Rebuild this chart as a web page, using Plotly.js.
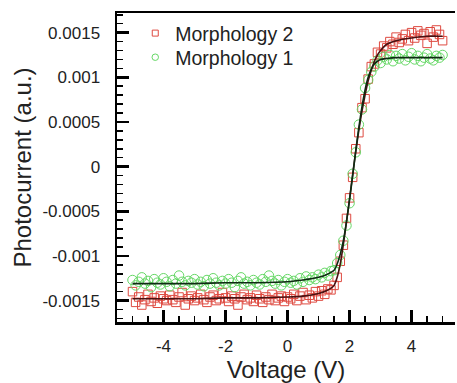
<!DOCTYPE html>
<html>
<head>
<meta charset="utf-8">
<script src="https://cdn.plot.ly/plotly-3.0.1.min.js"></script>
<style>html,body{margin:0;padding:0;background:#fff;}#chart{width:457px;height:383px;}</style>
</head>
<body>
<div id="chart"></div>
<script>
// Measured voltages (V)
const voltage = [-5.0,-4.9,-4.8,-4.7,-4.6,-4.5,-4.4,-4.3,-4.2,-4.1,-4.0,-3.9,-3.8,-3.7,-3.6,-3.5,-3.4,-3.3,-3.2,-3.1,-3.0,-2.9,-2.8,-2.7,-2.6,-2.5,-2.4,-2.3,-2.2,-2.1,-2.0,-1.9,-1.8,-1.7,-1.6,-1.5,-1.4,-1.3,-1.2,-1.1,-1.0,-0.9,-0.8,-0.7,-0.6,-0.5,-0.4,-0.3,-0.2,-0.1,0.0,0.1,0.2,0.3,0.4,0.5,0.6,0.7,0.8,0.9,1.0,1.1,1.2,1.3,1.4,1.5,1.6,1.7,1.8,1.9,2.0,2.1,2.2,2.3,2.4,2.5,2.6,2.7,2.8,2.9,3.0,3.1,3.2,3.3,3.4,3.5,3.6,3.7,3.8,3.9,4.0,4.1,4.2,4.3,4.4,4.5,4.6,4.7,4.8,4.9,5.0];

// Morphology 2 (red squares)
const morph2 = [-0.00140,-0.00152,-0.00146,-0.00155,-0.00149,-0.00143,-0.00151,-0.00147,-0.00153,-0.00145,
-0.00148,-0.00150,-0.00144,-0.00149,-0.00152,-0.00146,-0.00141,-0.00155,-0.00148,-0.00145,
-0.00150,-0.00147,-0.00143,-0.00149,-0.00152,-0.00146,-0.00144,-0.00150,-0.00148,-0.00141,
-0.00147,-0.00151,-0.00145,-0.00148,-0.00155,-0.00146,-0.00143,-0.00149,-0.00147,-0.00151,
-0.00144,-0.00148,-0.00152,-0.00146,-0.00149,-0.00143,-0.00150,-0.00147,-0.00145,-0.00151,
-0.00146,-0.00148,-0.00143,-0.00150,-0.00145,-0.00141,-0.00149,-0.00144,-0.00147,-0.00140,
-0.00145,-0.00139,-0.00143,-0.00137,-0.00138,-0.00133,-0.00124,-0.00106,-0.00088,-0.00058,
-0.00035,-0.00012,0.00020,0.00038,0.00066,0.00076,0.00098,0.00112,0.00115,0.00128,
0.00126,0.00135,0.00133,0.00140,0.00137,0.00145,0.00139,0.00143,0.00148,0.00141,
0.00150,0.00144,0.00152,0.00147,0.00149,0.00138,0.00151,0.00145,0.00153,0.00148,0.00141];

// Morphology 1 (green circles)
const morph1 = [-0.00127,-0.00133,-0.00129,-0.00124,-0.00131,-0.00128,-0.00135,-0.00126,-0.00130,-0.00132,
-0.00125,-0.00129,-0.00134,-0.00127,-0.00131,-0.00122,-0.00129,-0.00133,-0.00128,-0.00130,
-0.00126,-0.00132,-0.00129,-0.00134,-0.00127,-0.00131,-0.00125,-0.00130,-0.00133,-0.00128,
-0.00131,-0.00126,-0.00130,-0.00135,-0.00128,-0.00124,-0.00131,-0.00129,-0.00133,-0.00127,
-0.00130,-0.00132,-0.00126,-0.00129,-0.00122,-0.00128,-0.00131,-0.00127,-0.00133,-0.00129,
-0.00126,-0.00130,-0.00128,-0.00132,-0.00125,-0.00129,-0.00123,-0.00127,-0.00124,-0.00126,
-0.00121,-0.00124,-0.00119,-0.00122,-0.00117,-0.00116,-0.00108,-0.00099,-0.00083,-0.00066,
-0.00041,-0.00008,0.00016,0.00047,0.00064,0.00088,0.00097,0.00106,0.00112,0.00119,
0.00116,0.00123,0.00120,0.00125,0.00118,0.00124,0.00121,0.00126,0.00119,0.00123,
0.00127,0.00120,0.00124,0.00118,0.00122,0.00126,0.00121,0.00119,0.00124,0.00122,0.00125];

// Fitted curves
const fitVoltage = [-5.0,-4.0,-3.0,-2.0,-1.0,0.0,0.5,1.0,1.25,1.5,1.6,1.7,1.8,1.9,2.0,2.1,2.2,2.3,2.4,2.5,2.6,2.7,2.8,2.9,3.0,3.2,3.5,4.0,4.5,5.0];
const fitMorph2 = [-0.00148,-0.00148,-0.00148,-0.00147,-0.00147,-0.00146,-0.00145,-0.00142,-0.00139,-0.00133,-0.00124,-0.00109,-0.00087,-0.00062,-0.00036,-0.00009,0.00017,0.00041,0.00062,0.00080,0.00096,0.00108,0.00118,0.00125,0.00130,0.00137,0.00141,0.00144,0.00146,0.00146];
const fitMorph1 = [-0.00131,-0.00131,-0.00131,-0.00130,-0.00130,-0.00129,-0.00127,-0.00124,-0.00121,-0.00116,-0.00109,-0.00098,-0.00083,-0.00062,-0.00037,-0.00010,0.00018,0.00044,0.00067,0.00086,0.00100,0.00109,0.00115,0.00118,0.00120,0.00121,0.00122,0.00122,0.00122,0.00122];

const seriesNames = ['Morphology 2', 'Morphology 1'];
const xTickVals = [-4, -2, 0, 2, 4];
const xTickText = ['-4', '-2', '0', '2', '4'];
const yTickVals = [-0.0015, -0.001, -0.0005, 0, 0.0005, 0.001, 0.0015];
const yTickText = ['-0.0015', '-0.001', '-0.0005', '0', '0.0005', '0.001', '0.0015'];

const RED = '#de4a40', GREEN = '#66d866';
const FONT = 'Liberation Sans, Arial, Helvetica, sans-serif';
const TXT = '#222';

const traces = [
  {x: voltage, y: morph2, mode: 'markers', type: 'scatter', showlegend: false,
   marker: {symbol: 'square-open', size: 8.5, color: RED, line: {width: 1, color: RED}}},
  {x: voltage, y: morph1, mode: 'markers', type: 'scatter', showlegend: false,
   marker: {symbol: 'circle-open', size: 9.5, color: GREEN, line: {width: 1, color: GREEN}}},
  {x: fitVoltage, y: fitMorph2, mode: 'lines', type: 'scatter', showlegend: false,
   line: {color: '#4a1212', width: 1.6, shape: 'spline', smoothing: 0.6}},
  {x: fitVoltage, y: fitMorph1, mode: 'lines', type: 'scatter', showlegend: false,
   line: {color: '#0e2a12', width: 1.6, shape: 'spline', smoothing: 0.6}},
  // legend entries
  {x: [null], y: [null], mode: 'markers', type: 'scatter', name: seriesNames[0], legend: 'legend',
   marker: {symbol: 'square-open', size: 6, color: RED, line: {width: 1, color: RED}}},
  {x: [null], y: [null], mode: 'markers', type: 'scatter', name: seriesNames[1], legend: 'legend2',
   marker: {symbol: 'circle-open', size: 6.5, color: GREEN, line: {width: 1, color: GREEN}}}
];

const axisCommon = {
  showline: true, linecolor: '#000', linewidth: 2.5,
  ticks: 'inside', ticklen: 12, tickwidth: 2.5, tickcolor: '#000',
  showgrid: false, zeroline: false,
  tickfont: {family: FONT, size: 17, color: TXT}
};

const legendCommon = {xanchor: 'left', yanchor: 'top', bgcolor: 'rgba(0,0,0,0)',
  font: {family: FONT, size: 19.5, color: TXT}, itemwidth: 30};

const layout = {
  width: 457, height: 383,
  margin: {l: 117, r: 2, t: 13, b: 61},
  paper_bgcolor: '#fff', plot_bgcolor: '#fff',
  font: {family: FONT},
  showlegend: true,
  xaxis: Object.assign({}, axisCommon, {
    range: [-5.5, 5.4], mirror: true,
    tickmode: 'array', tickvals: xTickVals, ticktext: xTickText,
    ticklabelstandoff: 7,
    minor: {tickmode: 'linear', tick0: 0, dtick: 0.5, ticks: 'inside', ticklen: 6, tickwidth: 1.5, tickcolor: '#000', showgrid: false},
    title: {text: 'Voltage (V)', standoff: 6, font: {family: FONT, size: 24, color: TXT}}
  }),
  yaxis: Object.assign({}, axisCommon, {
    range: [-0.00174, 0.00172],
    tickmode: 'array', tickvals: yTickVals, ticktext: yTickText,
    ticklabelstandoff: 11,
    minor: {tickmode: 'linear', tick0: 0, dtick: 0.0001, ticks: 'inside', ticklen: 6, tickwidth: 1.5, tickcolor: '#000', showgrid: false},
    title: {text: 'Photocurrent (a.u.)', standoff: 4, font: {family: FONT, size: 24, color: TXT}}
  }),
  legend: Object.assign({}, legendCommon, {x: 0.054, y: 0.997}),
  legend2: Object.assign({}, legendCommon, {x: 0.054, y: 0.919})
};

Plotly.newPlot('chart', traces, layout, {staticPlot: true, displayModeBar: false});
</script>
</body>
</html>
